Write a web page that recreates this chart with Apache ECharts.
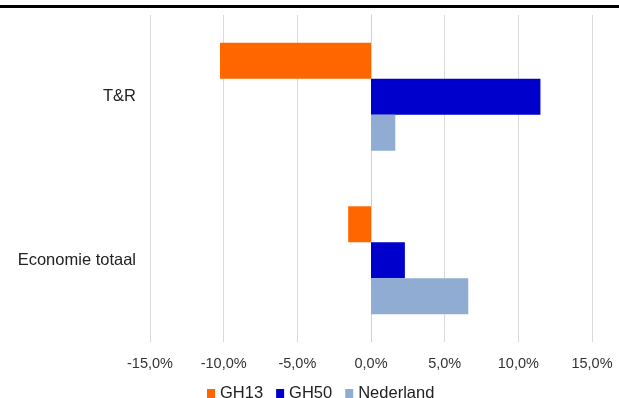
<!DOCTYPE html>
<html><head><meta charset="utf-8">
<script src="https://cdn.jsdelivr.net/npm/echarts@6/dist/echarts.min.js"></script>
<style>html,body{margin:0;padding:0;background:#fff}#c{width:619px;height:398px}</style>
</head><body><div id="c"></div>
<script>
const categories = ['T&R', 'Economie totaal'];
const gh13 = [-10.25, -1.55];
const gh50 = [11.5, 2.3];
const nederland = [1.65, 6.6];
const xTicks = [-15, -10, -5, 0, 5, 10, 15];

const chart = echarts.init(document.getElementById('c'));
const font = 'Liberation Sans, Arial, sans-serif';
function bar(name, data, color) {
  return { name, type: 'bar', data, barGap: '0%', barCategoryGap: '34%',
    itemStyle: { color }, emphasis: { disabled: true } };
}
chart.setOption({
  animation: false,
  grid: { left: 150, right: 27, top: 15, bottom: 56 },
  legend: {
    top: 380, left: 202, itemWidth: 8, itemHeight: 9, itemGap: 13,
    icon: 'rect', textStyle: { fontFamily: font, fontSize: 16.5, color: '#222' },
    data: ['GH13', 'GH50', 'Nederland']
  },
  xAxis: {
    type: 'value', min: xTicks[0], max: xTicks[xTicks.length - 1], interval: 5,
    axisLine: { show: false }, axisTick: { show: false },
    splitLine: { lineStyle: { color: '#d9d9d9' } },
    axisLabel: { fontFamily: font, fontSize: 14.5, color: '#333', margin: 14,
      formatter: v => v.toFixed(1).replace('.', ',') + '%' }
  },
  yAxis: {
    type: 'category', data: categories, inverse: true,
    axisLine: { show: true, lineStyle: { color: '#d0d0d0' } },
    axisTick: { show: false },
    axisLabel: { fontFamily: font, fontSize: 16.5, color: '#222', margin: 14 }
  },
  graphic: [{ type: 'rect', left: 0, top: 5, shape: { width: 619, height: 3 },
    style: { fill: '#000' } }],
  series: [
    bar('GH13', gh13, '#FF6600'),
    bar('GH50', gh50, '#0000CC'),
    bar('Nederland', nederland, '#91ACD2')
  ]
});
</script></body></html>
